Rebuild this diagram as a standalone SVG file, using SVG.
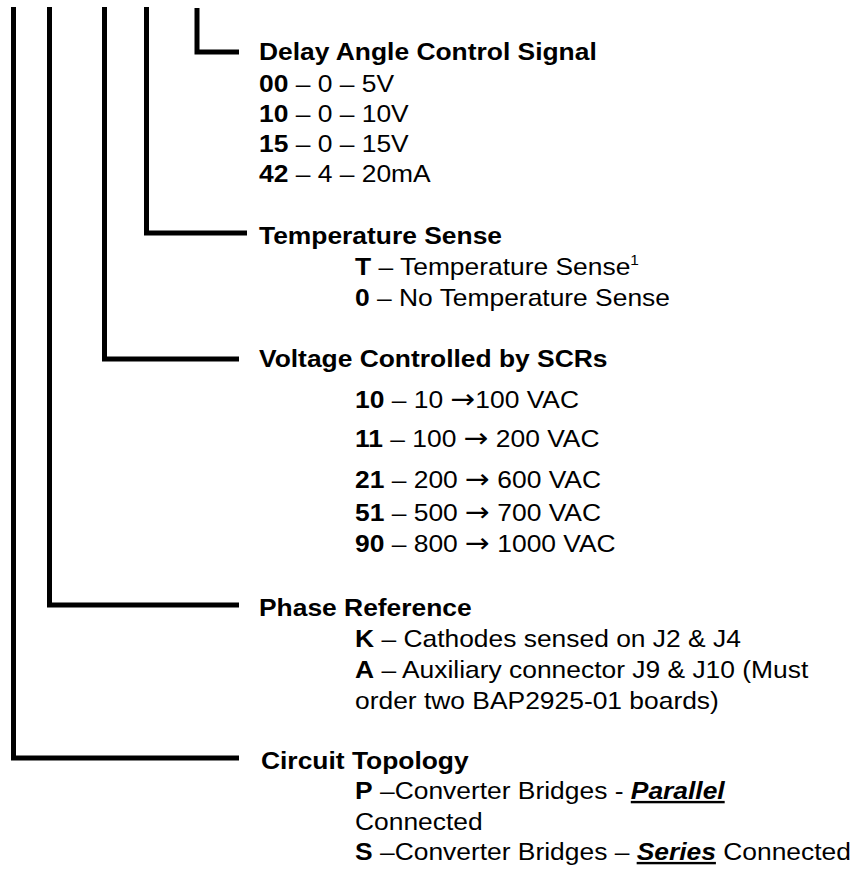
<svg xmlns="http://www.w3.org/2000/svg" width="860" height="873" viewBox="0 0 860 873">
<style>
  .t { font-family: "Liberation Sans", Arial, sans-serif; font-size: 24px; fill: #000; }
  .h { font-weight: bold; }
  .b { font-weight: bold; }
  .u { font-weight: bold; font-style: italic; text-decoration: underline; }
  .sup { font-size: 14px; }
  .ar { font-family: "DejaVu Sans", sans-serif; font-size: 27px; }
  .conn { fill: none; stroke: #000; stroke-width: 5; stroke-linecap: butt; stroke-linejoin: miter; }
</style>
<rect width="860" height="873" fill="#fff"/>
<g id="connectors">
  <path class="conn" d="M13.5 7 V758 H239"/>
  <path class="conn" d="M49.5 7 V605 H239"/>
  <path class="conn" d="M104.5 7 V359 H239"/>
  <path class="conn" d="M146.5 7 V233 H247"/>
  <path class="conn" d="M197 8 V52 H239"/>
</g>
<g id="delay-angle" class="t" transform="translate(259 0) scale(1.1 1)">
  <text class="h" x="0" y="60">Delay Angle Control Signal</text>
  <text x="0" y="92"><tspan class="b">00</tspan> – 0 – 5V</text>
  <text x="0" y="122"><tspan class="b">10</tspan> – 0 – 10V</text>
  <text x="0" y="152"><tspan class="b">15</tspan> – 0 – 15V</text>
  <text x="0" y="182"><tspan class="b">42</tspan> – 4 – 20mA</text>
</g>
<g id="temperature-sense" class="t" transform="translate(259 0) scale(1.1 1)">
  <text class="h" x="0" y="244">Temperature Sense</text>
  <text x="87.3" y="275"><tspan class="b">T</tspan> – Temperature Sense<tspan class="sup" dy="-10">1</tspan></text>
  <text x="87.3" y="306"><tspan class="b">0</tspan> – No Temperature Sense</text>
</g>
<g id="voltage" class="t" transform="translate(259 0) scale(1.1 1)">
  <text class="h" x="0" y="367">Voltage Controlled by SCRs</text>
  <text x="87.3" y="408"><tspan class="b">10</tspan> – 10 <tspan class="ar">→</tspan>100 VAC</text>
  <text x="87.3" y="447"><tspan class="b">11</tspan> – 100 <tspan class="ar">→</tspan> 200 VAC</text>
  <text x="87.3" y="488"><tspan class="b">21</tspan> – 200 <tspan class="ar">→</tspan> 600 VAC</text>
  <text x="87.3" y="521"><tspan class="b">51</tspan> – 500 <tspan class="ar">→</tspan> 700 VAC</text>
  <text x="87.3" y="552"><tspan class="b">90</tspan> – 800 <tspan class="ar">→</tspan> 1000 VAC</text>
</g>
<g id="phase-reference" class="t" transform="translate(259 0) scale(1.1 1)">
  <text class="h" x="0" y="616">Phase Reference</text>
  <text x="87.3" y="647"><tspan class="b">K</tspan> – Cathodes sensed on J2 &amp; J4</text>
  <text x="87.3" y="678"><tspan class="b">A</tspan> – Auxiliary connector J9 &amp; J10 (Must</text>
  <text x="87.3" y="709">order two BAP2925-01 boards)</text>
</g>
<g id="circuit-topology" class="t" transform="translate(259 0) scale(1.1 1)">
  <text class="h" x="1.8" y="769">Circuit Topology</text>
  <text x="87.3" y="799"><tspan class="b">P</tspan> –Converter Bridges - <tspan class="u">Parallel</tspan></text>
  <text x="87.3" y="830">Connected</text>
  <text x="87.3" y="860"><tspan class="b">S</tspan> –Converter Bridges – <tspan class="u">Series</tspan> Connected</text>
</g>
</svg>
